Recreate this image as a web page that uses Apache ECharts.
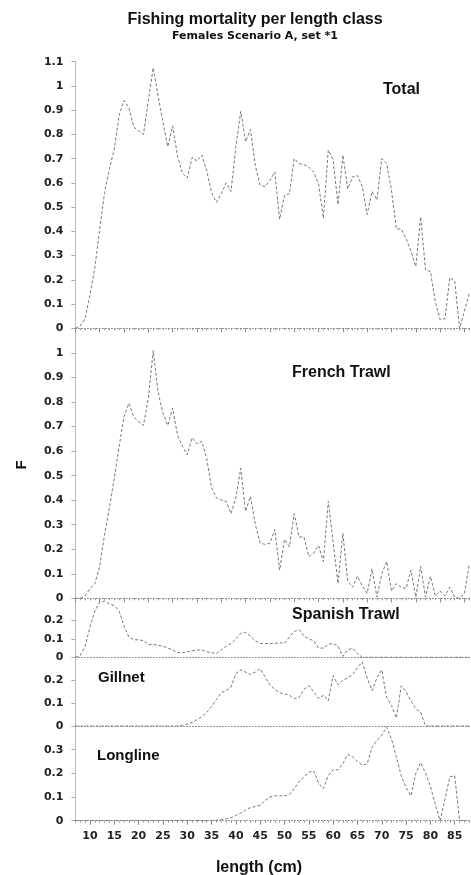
<!DOCTYPE html>
<html>
<head>
<meta charset="utf-8">
<script src="https://cdn.jsdelivr.net/npm/echarts@6/dist/echarts.min.js"></script>
<style>
  html, body { margin: 0; padding: 0; background: #fff; }
  #chart { width: 471px; height: 875px; }
</style>
</head>
<body>
<div id="chart"></div>
<script>
// Length classes (cm)
const lengths = [7, 8, 9, 10, 11, 12, 13, 14, 15, 16, 17, 18, 19, 20, 21, 22, 23, 24, 25, 26,
  27, 28, 29, 30, 31, 32, 33, 34, 35, 36, 37, 38, 39, 40, 41, 42, 43, 44, 45, 46,
  47, 48, 49, 50, 51, 52, 53, 54, 55, 56, 57, 58, 59, 60, 61, 62, 63, 64, 65, 66,
  67, 68, 69, 70, 71, 72, 73, 74, 75, 76, 77, 78, 79, 80, 81, 82, 83, 84, 85, 86,
  87, 88];

// Fishing mortality F per length class, by fleet
const totalF = [0, 0.01, 0.04, 0.14, 0.25, 0.41, 0.56, 0.66, 0.74, 0.88, 0.94, 0.91, 0.83, 0.815, 0.80, 0.94, 1.075, 0.96, 0.85, 0.75,
  0.835, 0.71, 0.64, 0.62, 0.705, 0.69, 0.715, 0.65, 0.56, 0.52, 0.555, 0.60, 0.565, 0.75, 0.895, 0.77, 0.82, 0.67, 0.59, 0.585,
  0.61, 0.645, 0.45, 0.55, 0.555, 0.70, 0.68, 0.675, 0.665, 0.645, 0.595, 0.455, 0.735, 0.695, 0.51, 0.715, 0.575, 0.625, 0.63, 0.585,
  0.47, 0.565, 0.53, 0.70, 0.68, 0.57, 0.41, 0.41, 0.37, 0.32, 0.255, 0.46, 0.24, 0.235, 0.11, 0.035, 0.04, 0.21, 0.195, 0,
  0.07, 0.145];

const frenchTrawlF = [0, 0, 0.01, 0.04, 0.06, 0.13, 0.26, 0.37, 0.49, 0.62, 0.74, 0.795, 0.74, 0.72, 0.705, 0.815, 1.01, 0.84, 0.755, 0.705,
  0.775, 0.665, 0.62, 0.585, 0.655, 0.63, 0.64, 0.57, 0.45, 0.41, 0.40, 0.395, 0.345, 0.41, 0.53, 0.355, 0.415, 0.30, 0.225, 0.22,
  0.225, 0.28, 0.115, 0.24, 0.21, 0.345, 0.25, 0.25, 0.17, 0.185, 0.215, 0.15, 0.395, 0.23, 0.06, 0.265, 0.07, 0.045, 0.09, 0.05,
  0.02, 0.12, 0.005, 0.10, 0.15, 0.03, 0.06, 0.045, 0.04, 0.115, 0.005, 0.13, 0.005, 0.09, 0.01, 0.03, 0.01, 0.045, 0.005, 0,
  0.02, 0.14];

const spanishTrawlF = [0, 0.01, 0.06, 0.165, 0.25, 0.30, 0.305, 0.29, 0.28, 0.25, 0.17, 0.11, 0.095, 0.095, 0.09, 0.07, 0.07, 0.065, 0.06, 0.05,
  0.04, 0.025, 0.025, 0.03, 0.035, 0.04, 0.04, 0.03, 0.025, 0.02, 0.04, 0.06, 0.075, 0.10, 0.13, 0.135, 0.115, 0.09, 0.075, 0.075,
  0.075, 0.075, 0.08, 0.075, 0.11, 0.14, 0.15, 0.115, 0.10, 0.09, 0.05, 0.05, 0.07, 0.075, 0.06, 0.005, 0.04, 0.05, 0.02, 0,
  0, 0, 0, 0, 0, 0, 0, 0, 0, 0, 0, 0, 0, 0, 0, 0, 0, 0, 0, 0,
  0, 0];

const gillnetF = [0, 0, 0, 0, 0, 0, 0, 0, 0, 0, 0, 0, 0, 0, 0, 0, 0, 0, 0, 0,
  0, 0, 0.002, 0.008, 0.015, 0.028, 0.04, 0.06, 0.085, 0.115, 0.145, 0.155, 0.17, 0.23, 0.245, 0.235, 0.225, 0.235, 0.25, 0.215,
  0.18, 0.16, 0.145, 0.14, 0.135, 0.12, 0.125, 0.16, 0.175, 0.15, 0.12, 0.135, 0.11, 0.22, 0.18, 0.20, 0.21, 0.225, 0.255, 0.28,
  0.21, 0.155, 0.21, 0.245, 0.125, 0.09, 0.035, 0.175, 0.15, 0.11, 0.075, 0.06, 0, 0, 0, 0, 0, 0, 0, 0,
  0, 0];

const longlineF = [0, 0, 0, 0, 0, 0, 0, 0, 0, 0, 0, 0, 0, 0, 0, 0, 0, 0, 0, 0,
  0, 0, 0, 0, 0, 0, 0, 0, 0, 0.002, 0.005, 0.008, 0.012, 0.022, 0.032, 0.045, 0.055, 0.06, 0.065, 0.085,
  0.10, 0.105, 0.105, 0.105, 0.11, 0.135, 0.165, 0.185, 0.205, 0.21, 0.16, 0.135, 0.19, 0.215, 0.215, 0.24, 0.28, 0.27, 0.25, 0.235,
  0.24, 0.31, 0.34, 0.36, 0.395, 0.345, 0.27, 0.19, 0.14, 0.105, 0.20, 0.245, 0.20, 0.145, 0.07, 0, 0.09, 0.185, 0.19, 0,
  0, 0];

// Tick labels
const xTickLabels = [10, 15, 20, 25, 30, 35, 40, 45, 50, 55, 60, 65, 70, 75, 80, 85];
const xMajorTop = [7, 12, 17, 22, 27, 32, 37, 42, 47, 52, 57, 62, 67, 72, 77, 82, 87];

const panels = [
  { name: 'Total',         data: totalF,        max: 1.1,  labels: [0, 0.1, 0.2, 0.3, 0.4, 0.5, 0.6, 0.7, 0.8, 0.9, 1, 1.1], top: 61.7,  height: 266.6, ticks: 'top' },
  { name: 'French Trawl',  data: frenchTrawlF,  max: 1.1,  labels: [0, 0.1, 0.2, 0.3, 0.4, 0.5, 0.6, 0.7, 0.8, 0.9, 1],      top: 328.5, height: 269.8, ticks: 'top' },
  { name: 'Spanish Trawl', data: spanishTrawlF, max: 0.32, labels: [0, 0.1, 0.2],                                          top: 598.3, height: 59.0,  ticks: 'none' },
  { name: 'Gillnet',       data: gillnetF,      max: 0.3,  labels: [0, 0.1, 0.2],                                          top: 657.3, height: 68.7,  ticks: 'none' },
  { name: 'Longline',      data: longlineF,     max: 0.4,  labels: [0, 0.1, 0.2, 0.3],                                     top: 726.0, height: 94.7,  ticks: 'bottom' }
];

const GRID_LEFT = 75.4;
const GRID_RIGHT = 1.7;
const labelFont = 'DejaVu Sans';
const headFont = 'Liberation Sans';

const grids = [], xAxes = [], yAxes = [], series = [];

panels.forEach((p, i) => {
  grids.push({ left: GRID_LEFT, right: GRID_RIGHT, top: p.top, height: p.height, outerBoundsMode: 'none', containLabel: false });

  // zero line with one-cm minor ticks
  xAxes.push({
    gridIndex: i, type: 'value', min: 7, max: 88, interval: 1, position: 'bottom',
    axisLine: { show: true, onZero: false, lineStyle: { color: '#888', width: 1, type: [1, 2] } },
    axisTick: { show: p.ticks !== 'none', length: 2, lineStyle: { color: '#999', width: 1 } },
    axisLabel: { show: false },
    splitLine: { show: false }
  });
  // major ticks (and labels on the bottom panel)
  const majors = p.ticks === 'bottom' ? xTickLabels : xMajorTop;
  xAxes.push({
    gridIndex: i, type: 'value', min: 7, max: 88, position: 'bottom',
    axisLine: { show: false },
    axisTick: { show: p.ticks !== 'none', length: 4, customValues: majors, lineStyle: { color: '#888', width: 1 } },
    axisLabel: {
      show: p.ticks === 'bottom', customValues: xTickLabels, margin: 10,
      fontFamily: labelFont, fontWeight: 'bold', fontSize: 11, color: '#222'
    },
    splitLine: { show: false }
  });

  yAxes.push({
    gridIndex: i, type: 'value', min: 0, max: p.max,
    axisLine: { show: true, lineStyle: { color: '#bbb', width: 1 } },
    axisTick: { show: true, length: 4, customValues: p.labels, lineStyle: { color: '#aaa' } },
    axisLabel: {
      customValues: p.labels, margin: 12,
      fontFamily: labelFont, fontWeight: 'bold', fontSize: 11, color: '#222',
      formatter: v => String(Math.round(v * 10) / 10)
    },
    splitLine: { show: false }
  });

  series.push({
    name: p.name, type: 'line', xAxisIndex: i * 2, yAxisIndex: i,
    data: lengths.map((l, k) => [l, p.data[k]]),
    showSymbol: false, smooth: false, clip: true,
    lineStyle: { color: '#777', width: 1, type: [3, 2] }
  });
});

const panelText = (text, x, y, size) => ({
  type: 'text', left: x, top: y - size / 2 - 1,
  style: { text, fontFamily: headFont, fontWeight: 'bold', fontSize: size, fill: '#111' }
});

const chart = echarts.init(document.getElementById('chart'));
chart.setOption({
  animation: false,
  backgroundColor: '#fff',
  grid: grids,
  xAxis: xAxes,
  yAxis: yAxes,
  series: series,
  graphic: [
    { type: 'text', x: 255, y: 20, style: { text: 'Fishing mortality per length class', fontFamily: headFont, fontWeight: 'bold', fontSize: 16, fill: '#111', align: 'center', verticalAlign: 'middle' } },
    { type: 'text', x: 255, y: 36, style: { text: 'Females Scenario A, set *1', fontFamily: labelFont, fontWeight: 'bold', fontSize: 11, fill: '#111', align: 'center', verticalAlign: 'middle' } },
    panelText('Total', 383, 91, 16),
    panelText('French Trawl', 292, 374, 16),
    panelText('Spanish Trawl', 292, 616, 16),
    panelText('Gillnet', 98, 679, 15),
    panelText('Longline', 97, 757, 15),
    { type: 'text', x: 22, y: 465, rotation: Math.PI / 2, style: { text: 'F', fontFamily: headFont, fontWeight: 'bold', fontSize: 15, fill: '#111', align: 'center', verticalAlign: 'middle' } },
    { type: 'text', x: 259, y: 868, style: { text: 'length (cm)', fontFamily: headFont, fontWeight: 'bold', fontSize: 16, fill: '#111', align: 'center', verticalAlign: 'middle' } }
  ]
});
</script>
</body>
</html>
